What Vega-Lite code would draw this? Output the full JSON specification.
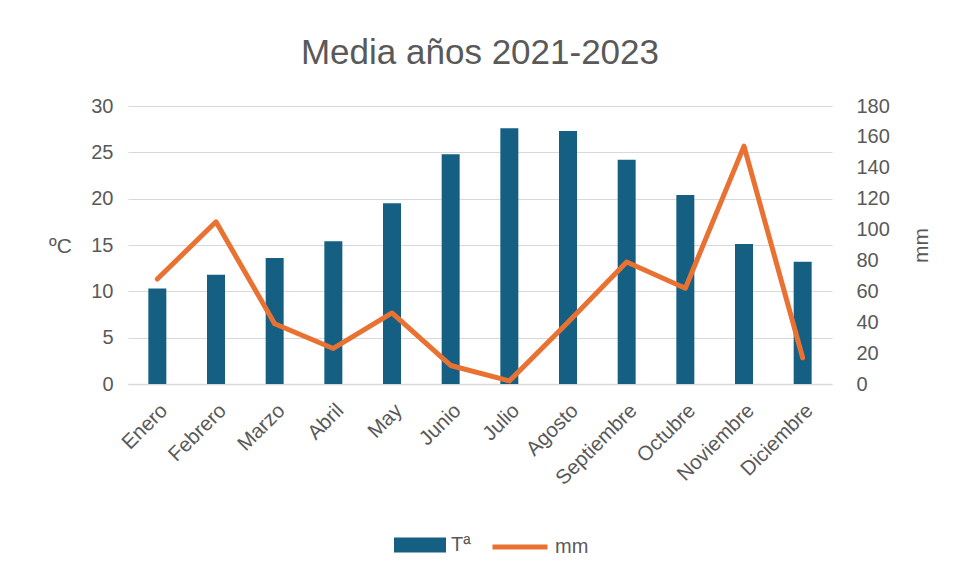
{
  "$schema": "https://vega.github.io/schema/vega-lite/v6.json",
  "autosize": {"type": "none"},
  "width": 704,
  "height": 278,
  "padding": {"left": 128, "top": 106, "right": 124, "bottom": 195},
  "background": "white",
  "title": {
    "text": "Media años 2021-2023",
    "fontSize": 35,
    "font": "Liberation Sans",
    "fontWeight": "normal",
    "color": "#595959",
    "anchor": "middle",
    "offset": -10,
    "baseline": "bottom"
  },
  "data": {
    "values": [
      {"mes": "Enero", "t": 10.3, "mm": 68},
      {"mes": "Febrero", "t": 11.8, "mm": 105},
      {"mes": "Marzo", "t": 13.6, "mm": 39},
      {"mes": "Abril", "t": 15.4, "mm": 23},
      {"mes": "May", "t": 19.5, "mm": 46},
      {"mes": "Junio", "t": 24.8, "mm": 12},
      {"mes": "Julio", "t": 27.6, "mm": 2},
      {"mes": "Agosto", "t": 27.3, "mm": 40},
      {"mes": "Septiembre", "t": 24.2, "mm": 79},
      {"mes": "Octubre", "t": 20.4, "mm": 62},
      {"mes": "Noviembre", "t": 15.1, "mm": 154},
      {"mes": "Diciembre", "t": 13.2, "mm": 17}
    ]
  },
  "encoding": {
    "x": {
      "field": "mes", "type": "nominal", "sort": null, "title": null,
      "axis": {"labelAngle": -45, "labelFontSize": 20.5, "labelColor": "#595959", "labelFont": "Liberation Sans",
        "ticks": false, "domainColor": "#d9d9d9", "domainWidth": 1.5, "labelPadding": 16, "grid": false}
    }
  },
  "layer": [
    {
      "mark": {"type": "bar", "width": 18},
      "encoding": {
        "y": {"field": "t", "type": "quantitative", "scale": {"domain": [0, 30]},
          "axis": {"title": "ºC", "titleAngle": 0, "titleFontSize": 21, "titleFontWeight": "normal", "titleColor": "#595959",
            "titleFont": "Liberation Sans", "titleX": -68, "titleY": 140, "titleAlign": "center", "titleBaseline": "middle",
            "values": [0, 5, 10, 15, 20, 25, 30], "labelFontSize": 20, "labelColor": "#595959", "labelFont": "Liberation Sans",
            "ticks": false, "domain": false, "labelPadding": 15, "gridColor": "#d9d9d9", "gridWidth": 1.2}},
        "fill": {"datum": "Tª", "type": "nominal",
          "scale": {"domain": ["Tª"], "range": ["#156082"]},
          "legend": {"orient": "none", "legendX": 266, "legendY": 413, "title": null, "labelFontSize": 20, "labelColor": "#595959",
            "labelFont": "Liberation Sans", "symbolType": "M-1,-0.29H1V0.29H-1Z", "symbolSize": 2704, "symbolStrokeWidth": 0, "labelOffset": 5, "padding": 0}}
      }
    },
    {
      "mark": {"type": "line", "strokeWidth": 5, "strokeJoin": "round", "strokeCap": "round"},
      "encoding": {
        "y": {"field": "mm", "type": "quantitative", "scale": {"domain": [0, 180]},
          "axis": {"orient": "right", "title": "mm", "titleAngle": -90, "titleFontSize": 21, "titleFontWeight": "normal", "titleColor": "#595959",
            "titleFont": "Liberation Sans", "titlePadding": 42,
            "values": [0, 20, 40, 60, 80, 100, 120, 140, 160, 180], "labelFontSize": 20, "labelColor": "#595959", "labelFont": "Liberation Sans",
            "ticks": false, "domain": false, "grid": false, "labelPadding": 24}},
        "stroke": {"datum": "mm", "type": "nominal",
          "scale": {"domain": ["mm"], "range": ["#e97132"]},
          "legend": {"orient": "none", "legendX": 362, "legendY": 411, "title": null, "labelFontSize": 20, "labelColor": "#595959",
            "labelFont": "Liberation Sans", "symbolType": "stroke", "symbolSize": 3025, "symbolStrokeWidth": 5, "labelOffset": 5, "padding": 0}}
      }
    }
  ],
  "resolve": {"scale": {"y": "independent", "fill": "independent", "stroke": "independent"}},
  "config": {"view": {"stroke": null}}
}
